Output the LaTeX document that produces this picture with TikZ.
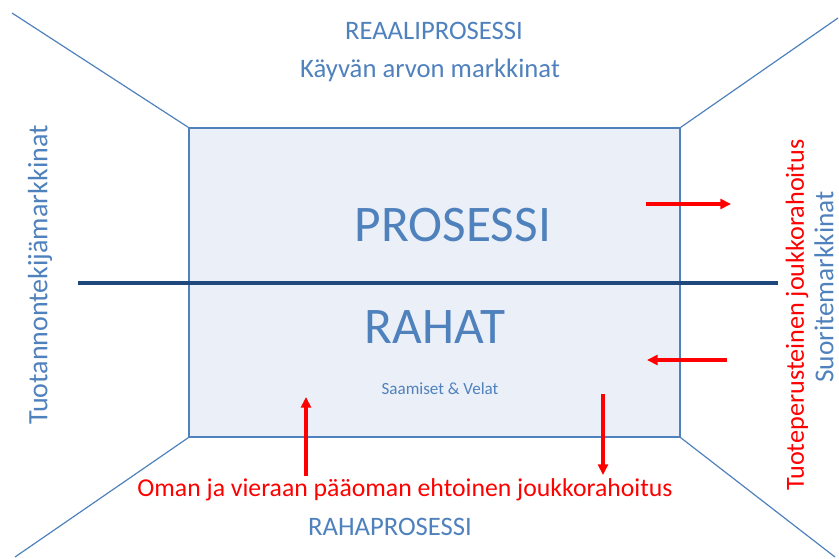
\documentclass[tikz,border=0pt]{standalone}
\usepackage{fontspec}
\setmainfont{Carlito}
\usepackage{tikz}
\usetikzlibrary{positioning,arrows.meta}
\definecolor{procblue}{HTML}{4F81BD}
\definecolor{procfill}{HTML}{EBF0F8}
\definecolor{procdark}{HTML}{1F497D}
\tikzset{
  flowarrow/.style={-{Triangle[length=8pt,width=7.5pt]}, line width=2.3pt, red},
  panel/.style={draw=procblue, line width=0.9pt, fill=procfill, minimum width=368.25pt, minimum height=231.75pt, inner sep=0pt},
  edge/.style={draw=procblue, line width=0.9pt},
  divider/.style={draw=procdark, line width=3.6pt},
  heading/.style={text=procblue, font=\fontsize{20}{24}\selectfont, inner sep=0pt},
  bigword/.style={text=procblue, font=\fontsize{38.5}{46}\selectfont, inner sep=0pt},
  redlabel/.style={text=red, font=\fontsize{19.6}{24}\selectfont, inner sep=0pt}
}

\begin{document}
\begin{tikzpicture}[x=0.75pt, y=-0.75pt]
  \useasboundingbox (0,0) rectangle (839,558);
  % outer corners of the room
  \coordinate (tl) at (12,13);
  \coordinate (tr) at (838,18);
  \coordinate (bl) at (15,557);
  \coordinate (br) at (835,557);
  \coordinate (divL) at (78,283);
  \coordinate (divR) at (778,283);

  \node[panel] (box) at (434.5,282.5) {};
  \draw[edge] (tl) -- (box.north west);
  \draw[edge] (tr) -- (box.north east);
  \draw[edge] (bl) -- (box.south west);
  \draw[edge] (br) -- (box.south east);
  \draw[divider] (divL) -- (divR);

  \node[heading] (real) at (434,31) {REAALIPROSESSI};
  \node[heading] (fair) at (430,70) {Käyvän arvon markkinat};
  \node[bigword] (proc) at (453,225) {PROSESSI};
  \node[bigword] (money) at (435,327) {RAHAT};
  \node[text=procblue, font=\fontsize{12.8}{15}\selectfont, inner sep=0pt] (debt) at (440,389) {Saamiset \& Velat};
  \node[redlabel, font=\fontsize{19.3}{24}\selectfont] (equity) at (405,490) {Oman ja vieraan pääoman ehtoinen joukkorahoitus};
  \node[heading] (cash) at (390,527) {RAHAPROSESSI};
  \node[heading, rotate=90, font=\fontsize{21}{25}\selectfont] (factor) at (40,275) {Tuotannontekijämarkkinat};
  \node[redlabel, rotate=90] (reward) at (797,315) {Tuoteperusteinen joukkorahoitus};
  \node[heading, rotate=90, font=\fontsize{20.5}{24}\selectfont] (output) at (824,287) {Suoritemarkkinat};

  % flows across the box edges
  \coordinate (a1) at (646,204);
  \coordinate (a2) at (731,204);
  \coordinate (b1) at (727,360);
  \coordinate (b2) at (647,360);
  \coordinate (c1) at (306,476);
  \coordinate (c2) at (306,397);
  \coordinate (d1) at (603,394);
  \coordinate (d2) at (603,475);
  \draw[flowarrow] (a1) -- (a2);
  \draw[flowarrow] (b1) -- (b2);
  \draw[flowarrow] (c1) -- (c2);
  \draw[flowarrow] (d1) -- (d2);
\end{tikzpicture}
\end{document}
